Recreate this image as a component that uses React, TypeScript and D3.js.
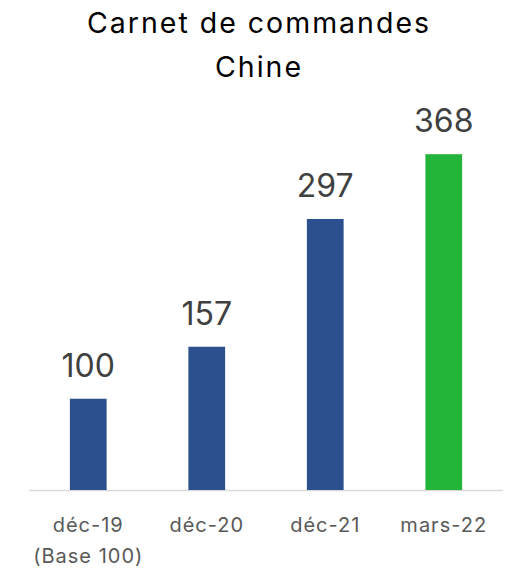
import * as d3 from "d3";
import { useEffect, useRef } from "react";

const categories = ["déc-19", "déc-20", "déc-21", "mars-22"];
const subLabels = ["(Base 100)", "", "", ""];
const values = [100, 157, 297, 368];
const barColors = ["#2c4f8e", "#2c4f8e", "#2c4f8e", "#23b43a"];
const titleLines = ["Carnet de commandes", "Chine"];

export default function App() {
  const svgRef = useRef<SVGSVGElement | null>(null);

  useEffect(() => {
    document.body.style.margin = "0";
    if (!svgRef.current) return;

    const svg = d3.select(svgRef.current);
    svg.selectAll("*").remove();

    const width = 511;
    const height = 570;
    const font = "Inter, 'Open Sans', sans-serif";
    const baseY = 490;

    const x = d3
      .scaleBand()
      .domain(categories)
      .range([29, 503])
      .paddingInner(0.69)
      .paddingOuter(0.345);

    const y = d3.scaleLinear().domain([0, 400]).range([baseY, 125]);

    svg.attr("width", width).attr("height", height);

    // Title
    svg
      .append("g")
      .selectAll("text")
      .data(titleLines)
      .join("text")
      .attr("x", 259)
      .attr("y", (_, i) => 33 + i * 44)
      .attr("text-anchor", "middle")
      .attr("fill", "#000")
      .style("font-family", font)
      .style("font-size", "28.5px")
      .style("letter-spacing", "2px")
      .text((d) => d);

    // Axis line
    svg
      .append("line")
      .attr("x1", x.range()[0])
      .attr("x2", x.range()[1])
      .attr("y1", baseY + 0.5)
      .attr("y2", baseY + 0.5)
      .attr("stroke", "#d9d9d9")
      .attr("stroke-width", 1.5);

    // Bars
    svg
      .append("g")
      .selectAll("rect")
      .data(values)
      .join("rect")
      .attr("x", (_, i) => x(categories[i])!)
      .attr("y", (d) => y(d))
      .attr("width", x.bandwidth())
      .attr("height", (d) => y(0) - y(d))
      .attr("fill", (_, i) => barColors[i]);

    // Value labels
    svg
      .append("g")
      .selectAll("text")
      .data(values)
      .join("text")
      .attr("x", (_, i) => x(categories[i])! + x.bandwidth() / 2)
      .attr("y", (d) => y(d) - 22)
      .attr("text-anchor", "middle")
      .attr("fill", "#404040")
      .style("font-family", font)
      .style("font-size", "32px")
      .text((d) => d);

    // Category labels
    const cats = svg
      .append("g")
      .selectAll("text")
      .data(categories)
      .join("text")
      .attr("text-anchor", "middle")
      .attr("fill", "#595959")
      .style("font-family", font)
      .style("font-size", "20px")
      .style("letter-spacing", "1px");

    cats
      .append("tspan")
      .attr("x", (d) => x(d)! + x.bandwidth() / 2)
      .attr("y", 532)
      .text((d) => d);

    cats
      .append("tspan")
      .attr("x", (d) => x(d)! + x.bandwidth() / 2)
      .attr("y", 563)
      .text((_, i) => subLabels[i]);
  }, []);

  return <svg ref={svgRef} style={{ display: "block" }}></svg>;
}
